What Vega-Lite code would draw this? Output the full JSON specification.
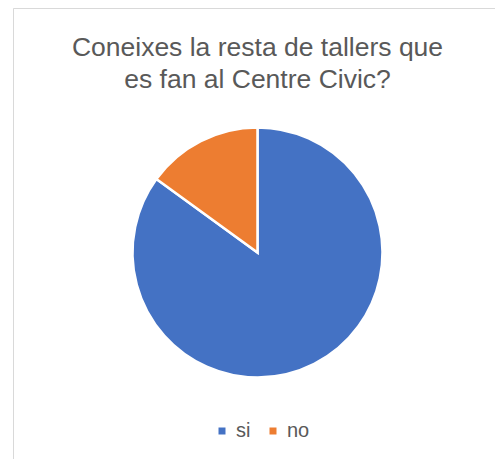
{
  "$schema": "https://vega.github.io/schema/vega-lite/v6.json",
  "width": 482,
  "height": 451,
  "autosize": "none",
  "padding": {"left": 13, "top": 8, "right": 0, "bottom": 0},
  "background": "white",
  "view": {"stroke": "#d9d9d9", "strokeWidth": 1, "fill": "white", "strokeDash": [482, 933], "strokeDashOffset": 0, "strokeCap": "butt"},
  "config": {
    "font": "Liberation Sans",
    "view": {"stroke": null}
  },
  "title": {
    "text": ["Coneixes la resta de tallers que", "es fan al Centre Civic?"],
    "font": "Liberation Sans",
    "fontSize": 26.5,
    "fontWeight": "normal",
    "color": "#595959",
    "lineHeight": 32,
    "anchor": "middle",
    "frame": "group",
    "baseline": "alphabetic",
    "offset": 0,
    "dx": 3.5,
    "dy": 106
  },
  "data": {
    "values": [
      {"respuesta": "si", "valor": 85},
      {"respuesta": "no", "valor": 15}
    ]
  },
  "mark": {
    "type": "arc",
    "outerRadius": 125,
    "stroke": "white",
    "strokeWidth": 2.5,
    "x": {"expr": "width/2 + 3.5"},
    "y": {"expr": "height/2 + 19"}
  },
  "encoding": {
    "theta": {"field": "valor", "type": "quantitative", "stack": true},
    "order": {"field": "respuesta", "sort": "descending"},
    "color": {
      "field": "respuesta",
      "type": "nominal",
      "scale": {"domain": ["si", "no"], "range": ["#4472C4", "#ED7D31"]},
      "legend": {
        "title": null,
        "orient": "none",
        "direction": "horizontal",
        "legendX": 199,
        "legendY": 413,
        "padding": 0,
        "symbolType": "square",
        "symbolSize": 49,
        "symbolStrokeWidth": 0,
        "labelFont": "Liberation Sans",
        "labelFontSize": 20,
        "labelColor": "#595959",
        "labelOffset": 4,
        "columnPadding": 12
      }
    }
  }
}
